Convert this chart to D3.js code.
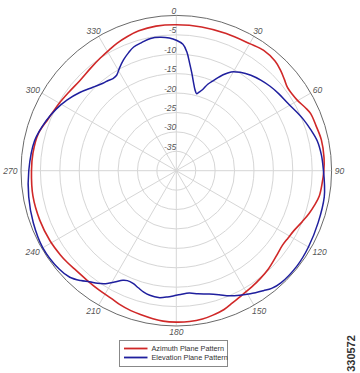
<!DOCTYPE html>
<html><head><meta charset="utf-8">
<script src="https://cdn.jsdelivr.net/npm/d3@7"></script>
<style>html,body{margin:0;padding:0;background:#fff;}svg{display:block;}</style>
</head><body><svg id="c" width="360" height="373"></svg>
<script>
// ---- data ----
const ringValues = [0, -5, -10, -15, -20, -25, -30, -35];
const ringLabels = ["0", "-5", "-10", "-15", "-20", "-25", "-30", "-35"];
const angleTicks = [0, 30, 60, 90, 120, 150, 180, 210, 240, 270, 300, 330];
const angleLabels = ["", "30", "60", "90", "120", "150", "180", "210", "240", "270", "300", "330"];
const seriesNames = ["Azimuth Plane Pattern", "Elevation Plane Pattern"];

const azimuthAngles = [0,10,20,30,36,42,46,50,53,57,60,64,67,72,78,85,90,95,100,104,108,112,117,121,125,130,137,142,147,152,157,161,166,170,175,180,185,189,194,198,203,207,213,219,225,230,234,241,250,260,270,277,285,292,300,306,313,320,326,331,335,340,345,352];
const azimuthDb = [-2.4,-2.4,-2.4,-2.2,-1.7,-2.0,-2.7,-3.6,-4.2,-4.2,-3.9,-3.0,-2.4,-2.2,-1.8,-1.8,-2.0,-2.3,-2.6,-3.3,-4.1,-5.0,-6.0,-6.4,-6.6,-6.2,-5.3,-4.8,-4.3,-3.8,-3.0,-2.2,-1.6,-1.2,-1.0,-1.0,-1.1,-1.4,-1.8,-2.1,-2.6,-3.1,-3.4,-3.6,-3.6,-3.3,-3.1,-2.8,-2.6,-2.5,-2.7,-2.8,-3.2,-4.4,-5.2,-5.7,-6.0,-5.6,-5.0,-4.4,-3.8,-3.2,-2.7,-2.4];

const elevationAngles = [0,3,5,7,9,11,13,14.8,16,18,20,22.5,26,29,33,38,43,48,53,59,64,68,73,78,84,90,95,100,110,120,128,137,141,144,149,153,157,161,165,170,174,178,181,184,188,192,195,198,201,204,206,209,212,215,218,221,225,230,240,250,260,270,282,291,297,303,309,315,320,323,325.5,328,331,334.5,338,341,345,349,353,357];
const elevationDb = [-6.4,-7.4,-9.2,-12,-14.5,-16.8,-18.6,-19.5,-19.0,-18.0,-16.3,-14.8,-12.5,-10.9,-9.8,-8.8,-8.1,-7.5,-7.0,-6.4,-5.5,-4.7,-3.8,-2.9,-2.4,-2.1,-1.7,-1.3,-1.1,-0.7,-0.4,-0.5,-1.0,-1.8,-3.0,-4.0,-5.0,-6.2,-7.1,-7.8,-8.3,-8.1,-7.8,-7.4,-7.0,-7.2,-7.6,-8.3,-8.9,-9.0,-8.6,-7.2,-5.7,-4.6,-3.7,-2.5,-1.2,-0.6,-0.3,-0.8,-1.4,-2.0,-2.7,-4.1,-5.2,-6.5,-8.0,-9.6,-10.6,-10.9,-11.2,-11.0,-9.8,-8.4,-7.2,-6.3,-5.8,-5.3,-5.4,-5.8];

// ---- layout ----
const cx = 176.3, cy = 170.7, R = 155.3;
const svg = d3.select("#c");
const g = svg.append("g").attr("transform", `translate(${cx},${cy})`);
const r = d3.scaleLinear().domain([-40, 0]).range([0, R]);
const toRad = a => a * Math.PI / 180;

// grid rings
g.selectAll("circle.ring").data(ringValues.slice(1)).join("circle")
  .attr("class", "ring").attr("r", d => r(d))
  .attr("fill", "none").attr("stroke", "#d6d6d6").attr("stroke-width", 1);
// spokes
g.selectAll("line.spoke").data(angleTicks).join("line")
  .attr("class", "spoke")
  .attr("x1", 0).attr("y1", 0)
  .attr("x2", d => r(0) * Math.sin(toRad(d)))
  .attr("y2", d => -r(0) * Math.cos(toRad(d)))
  .attr("stroke", "#d6d6d6").attr("stroke-width", 1);
// outer circle
g.append("circle").attr("r", r(0)).attr("fill", "none").attr("stroke", "#6a6a6a").attr("stroke-width", 1);

// ring labels
g.selectAll("text.rl").data(ringValues).join("text")
  .attr("class", "rl")
  .attr("x", 0).attr("y", d => -r(d) - 1.5)
  .attr("text-anchor", "end")
  .attr("font-family", "Liberation Sans, Arial, sans-serif")
  .attr("font-style", "italic").attr("font-size", 8.5)
  .attr("fill", "#555")
  .text((d, i) => ringLabels[i]);

// angle labels
const lab = g.selectAll("text.al").data(angleTicks.map((a, i) => ({a, t: angleLabels[i]})).filter(d => d.t !== "")).join("text")
  .attr("class", "al")
  .attr("font-family", "Liberation Sans, Arial, sans-serif")
  .attr("font-style", "italic").attr("font-size", 8.5)
  .attr("fill", "#555")
  .attr("text-anchor", "middle")
  .text(d => d.t);
lab.each(function(d) {
  const bb = this.getBBox();
  const s = Math.sin(toRad(d.a)), c = Math.cos(toRad(d.a));
  const rr = r(0) + 3;
  const px = rr * s + s * bb.width / 2;
  const py = -rr * c - c * 3.2;
  d3.select(this).attr("x", px).attr("y", py + 3.1);
});

// series
const line = d3.lineRadial()
  .angle(d => toRad(d.a))
  .radius(d => r(d.v))
  .curve(d3.curveCatmullRomClosed.alpha(0.5));

const az = azimuthAngles.map((a, i) => ({a, v: azimuthDb[i]}));
const el = elevationAngles.map((a, i) => ({a, v: elevationDb[i]}));
const colors = ["#d02828", "#1f1f9e"];

g.append("path").datum(az).attr("d", line).attr("fill", "none")
  .attr("stroke", colors[0]).attr("stroke-width", 1.6);
g.append("path").datum(el).attr("d", line).attr("fill", "none")
  .attr("stroke", colors[1]).attr("stroke-width", 1.5);

// legend
const lg = svg.append("g").attr("transform", "translate(119.5,340.5)");
lg.append("rect").attr("width", 108).attr("height", 26)
  .attr("fill", "#fff").attr("stroke", "#888").attr("stroke-width", 1);
seriesNames.forEach((n, i) => {
  const y = 8 + i * 9;
  lg.append("line").attr("x1", 4.5).attr("x2", 28).attr("y1", y).attr("y2", y)
    .attr("stroke", colors[i]).attr("stroke-width", 1.8);
  lg.append("text").attr("x", 32).attr("y", y + 2.6)
    .attr("font-family", "Liberation Sans, Arial, sans-serif")
    .attr("font-size", 7.3).attr("fill", "#333").text(n);
});

// figure id
svg.append("text")
  .attr("transform", "translate(355,353.5) rotate(-90)")
  .attr("text-anchor", "middle")
  .attr("font-family", "Liberation Sans, Arial, sans-serif")
  .attr("font-size", 11).attr("font-weight", "bold")
  .attr("fill", "#333").text("330572");
</script></body></html>
